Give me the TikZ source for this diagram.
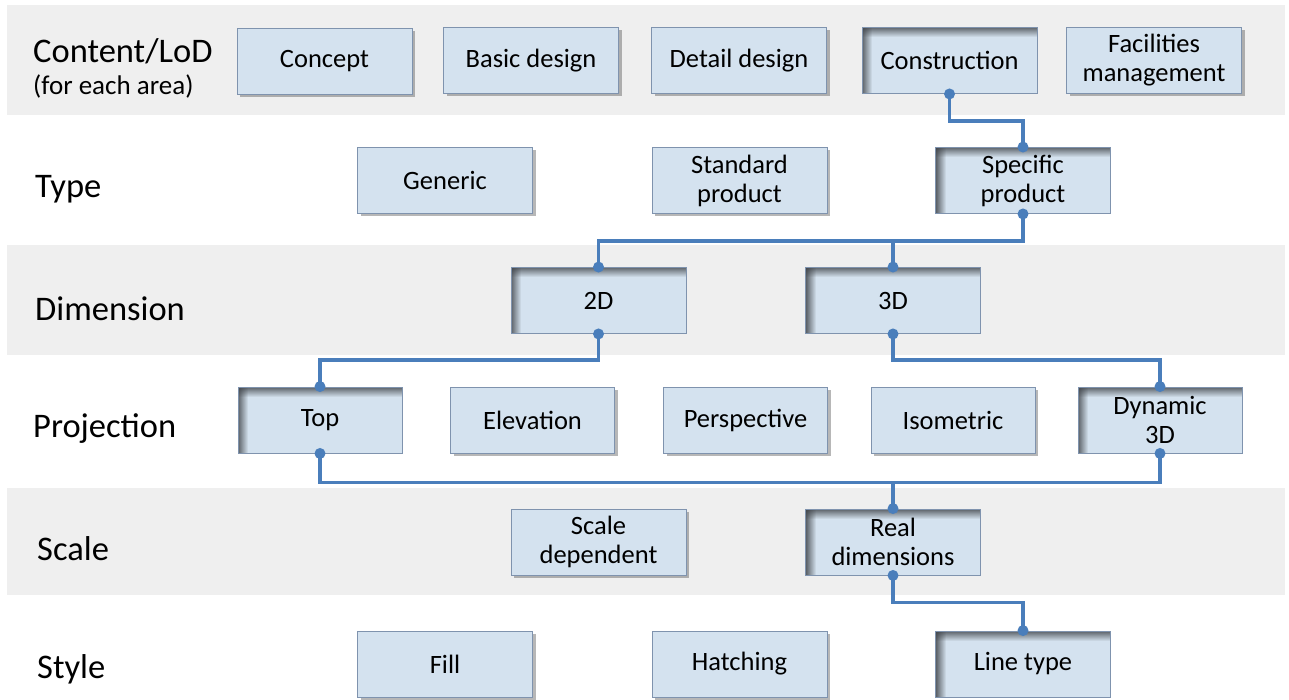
\documentclass[tikz,border=0pt]{standalone}
\usepackage{fontspec}
\setmainfont{Carlito}
\usetikzlibrary{shadows}
\definecolor{bandgray}{HTML}{EFEFEF}
\definecolor{boxfill}{HTML}{D4E2EF}
\definecolor{boxline}{HTML}{7F93AE}
\definecolor{connblue}{HTML}{4A7EBB}
\definecolor{shadowdark}{HTML}{3E4247}
\tikzset{
  band/.style={fill=bandgray, draw=none},
  boxbase/.style={draw=boxline, line width=0.9pt, fill=boxfill, align=center,
    font=\fontsize{26.5}{29}\selectfont, inner sep=0pt, minimum height=66pt},
  plainbox/.style={boxbase, drop shadow={shadow xshift=3pt, shadow yshift=-3pt, opacity=0.4, fill=black!70}},
  selbox/.style={boxbase, path picture={
      \foreach \i in {0,...,9} {
        \fill[shadowdark, opacity={0.8*(1-\i/10)}]
          ([xshift={\i*1pt}]path picture bounding box.north west) rectangle
          ([xshift={(\i+1)*1pt}]path picture bounding box.south west);
        \fill[shadowdark, opacity={0.8*(1-\i/10)}]
          ([yshift={-\i*1pt}]path picture bounding box.north west) rectangle
          ([yshift={-(\i+1)*1pt}]path picture bounding box.north east);
      }
    }},
  rowlabel/.style={anchor=west, font=\fontsize{34.5}{38}\selectfont, inner sep=0pt},
  conn/.style={draw=connblue, line width=3.4pt},
  dot/.style={fill=connblue, draw=none},
}
\begin{document}
\begin{tikzpicture}[x=1pt, y=-1pt]
\useasboundingbox (0,0) rectangle (1289,700);
\fill[white] (0,0) rectangle (1289,700);
% bands
\fill[band] (7,5) rectangle (1285,115);
\fill[band] (7,245) rectangle (1285,355);
\fill[band] (7,488) rectangle (1285,595);
% row labels
\node[rowlabel] (lcontent) at (33,51) {Content/LoD};
\node[rowlabel, font=\fontsize{27}{30}\selectfont] (lcontent2) at (33,87) {(for each area)};
\node[rowlabel] (ltype) at (35,189) {Type};
\node[rowlabel] (ldim) at (35,309) {Dimension};
\node[rowlabel] (lproj) at (33,429) {Projection};
\node[rowlabel] (lscale) at (37,549) {Scale};
\node[rowlabel] (lstyle) at (37,669) {Style};
% row 1
\node[plainbox, minimum width=175pt] (concept) at (324.5,61.5) {Concept};
\node[plainbox, minimum width=175pt] (basic) at (531,60.5) {Basic design};
\node[plainbox, minimum width=175pt] (detail) at (739,60.5) {Detail design};
\node[selbox, minimum width=175pt] (constr) at (949.5,60.5) {Construction};
\node[plainbox, minimum width=175pt] (facil) at (1154,60.5) {Facilities\\management};
% row 2
\node[plainbox, minimum width=175pt] (generic) at (445,180.5) {Generic};
\node[plainbox, minimum width=175pt] (standard) at (739.5,180.5) {Standard\\product};
\node[selbox, minimum width=175pt] (specific) at (1023,180.5) {Specific\\product};
% row 3
\node[selbox, minimum width=175pt] (d2) at (598.5,300.5) {2D};
\node[selbox, minimum width=175pt] (d3) at (893,300.5) {3D};
% row 4
\node[selbox, minimum width=164pt] (top) at (320,420) {Top};
\node[plainbox, minimum width=164pt] (elev) at (532.5,420) {Elevation};
\node[plainbox, minimum width=164pt] (persp) at (745.5,420) {Perspective};
\node[plainbox, minimum width=164pt] (iso) at (953,420) {Isometric};
\node[selbox, minimum width=164pt] (dyn) at (1160,420) {Dynamic\\3D};
% row 5
\node[plainbox, minimum width=175pt] (scaledep) at (598.5,542) {Scale\\dependent};
\node[selbox, minimum width=175pt] (real) at (893,542) {Real\\dimensions};
% row 6
\node[plainbox, minimum width=175pt] (fill) at (445,664) {Fill};
\node[plainbox, minimum width=175pt] (hatch) at (739.5,664) {Hatching};
\node[selbox, minimum width=175pt] (linetype) at (1023,664) {Line type};
% connectors
\coordinate (h1) at ([yshift=-27pt]constr.south);
\draw[conn] (constr.south) -- (h1) -| (specific.north);
\coordinate (h2) at ([yshift=-27pt]specific.south);
\draw[conn] (specific.south) -- (h2) -| (d2.north);
\draw[conn] (d3.north) -- (d3.north |- h2);
\coordinate (h3) at ([yshift=-26pt]d2.south);
\draw[conn] (d2.south) -- (h3) -| (top.north);
\draw[conn] (d3.south) -- (d3.south |- h3) -| (dyn.north);
\coordinate (h4) at ([yshift=-29pt]top.south);
\draw[conn] (top.south) -- (h4) -| (dyn.south);
\draw[conn] (real.north) -- (real.north |- h4);
\coordinate (h5) at ([yshift=-27pt]real.south);
\draw[conn] (real.south) -- (h5) -| (linetype.north);
% dots
\foreach \p in {constr.south, specific.north, specific.south, d2.north, d3.north,
  d2.south, d3.south, top.north, dyn.north, top.south, dyn.south, real.north,
  real.south, linetype.north}
  \fill[dot] (\p) circle (5.5pt);
\end{tikzpicture}
\end{document}
